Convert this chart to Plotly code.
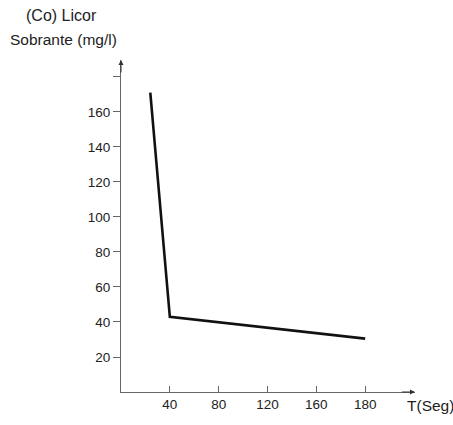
import numpy as np
import plotly.graph_objects as go

# Data
tiempo_seg = [24, 40, 180]            # T (Seg)
licor_sobrante = [171, 43, 30.5]      # (Co) mg/l

x_tick_labels = ["40", "80", "120", "160", "180"]
x_tick_values = [40, 80, 120, 160, 180]
y_tick_values = [20, 40, 60, 80, 100, 120, 140, 160, 180]
y_tick_labels = ["20", "40", "60", "80", "100", "120", "140", "160", ""]

# the time axis in the original is drawn with evenly spaced labels
ref_vals = [0] + x_tick_values
ref_idx = list(range(len(ref_vals)))
x_pos = np.interp(tiempo_seg, ref_vals, ref_idx)
tick_pos = np.interp(x_tick_values, ref_vals, ref_idx)

W, H = 453, 425
L, R, T, B = 121, 38, 60, 33
pw, ph = W - L - R, H - T - B
XMAX = 6.02
YMAX = 189.7

FONT = "Liberation Sans, Arial, sans-serif"
AX = "#666666"

def px_x(p):
    return (p - L) / pw

def px_y(p):
    return 1 - (p - T) / ph

fig = go.Figure()
fig.add_trace(go.Scatter(
    x=x_pos, y=licor_sobrante, mode="lines",
    line=dict(color="#111111", width=2.6),
    showlegend=False, hoverinfo="skip",
))

fig.update_layout(
    width=W, height=H,
    margin=dict(l=L, r=R, t=T, b=B, pad=0),
    paper_bgcolor="white", plot_bgcolor="white",
    xaxis=dict(
        range=[0, XMAX], showgrid=False, zeroline=False,
        showline=True, linecolor=AX, linewidth=1,
        tickvals=list(tick_pos), ticktext=x_tick_labels,
        ticks="inside", ticklen=6, tickcolor=AX, tickwidth=1,
        tickfont=dict(family=FONT, size=13.5, color="#222222"),
    ),
    yaxis=dict(
        range=[0, YMAX], showgrid=False, zeroline=False,
        showline=True, linecolor=AX, linewidth=1,
        tickvals=y_tick_values, ticktext=y_tick_labels,
        ticks="outside", ticklen=7, tickcolor=AX, tickwidth=1,
        tickfont=dict(family=FONT, size=13.5, color="#222222"),
    ),
    annotations=[
        dict(text="(Co) Licor", xref="paper", yref="paper",
             x=px_x(61), y=px_y(15), showarrow=False,
             xanchor="center", yanchor="middle",
             font=dict(family=FONT, size=16, color="#222222")),
        dict(text="Sobrante (mg/l)", xref="paper", yref="paper",
             x=px_x(63), y=px_y(40), showarrow=False,
             xanchor="center", yanchor="middle",
             font=dict(family=FONT, size=15.5, color="#222222")),
        dict(text="T(Seg)", xref="paper", yref="paper",
             x=px_x(430), y=px_y(405), showarrow=False,
             xanchor="center", yanchor="middle",
             font=dict(family=FONT, size=15.5, color="#222222")),
        # axis arrowheads
        dict(x=XMAX, y=0, ax=XMAX - 0.3, ay=0, xref="x", yref="y",
             axref="x", ayref="y", showarrow=True, arrowhead=2,
             arrowsize=1, arrowwidth=1, arrowcolor="#333333", text=""),
        dict(x=0, y=YMAX, ax=0, ay=YMAX - 8, xref="x", yref="y",
             axref="x", ayref="y", showarrow=True, arrowhead=2,
             arrowsize=1, arrowwidth=1, arrowcolor="#333333", text=""),
    ],
)

fig.write_html(
    "out.html",
    config={"displayModeBar": False},
    post_script="document.body.style.margin='0';document.documentElement.style.overflow='hidden';",
)
